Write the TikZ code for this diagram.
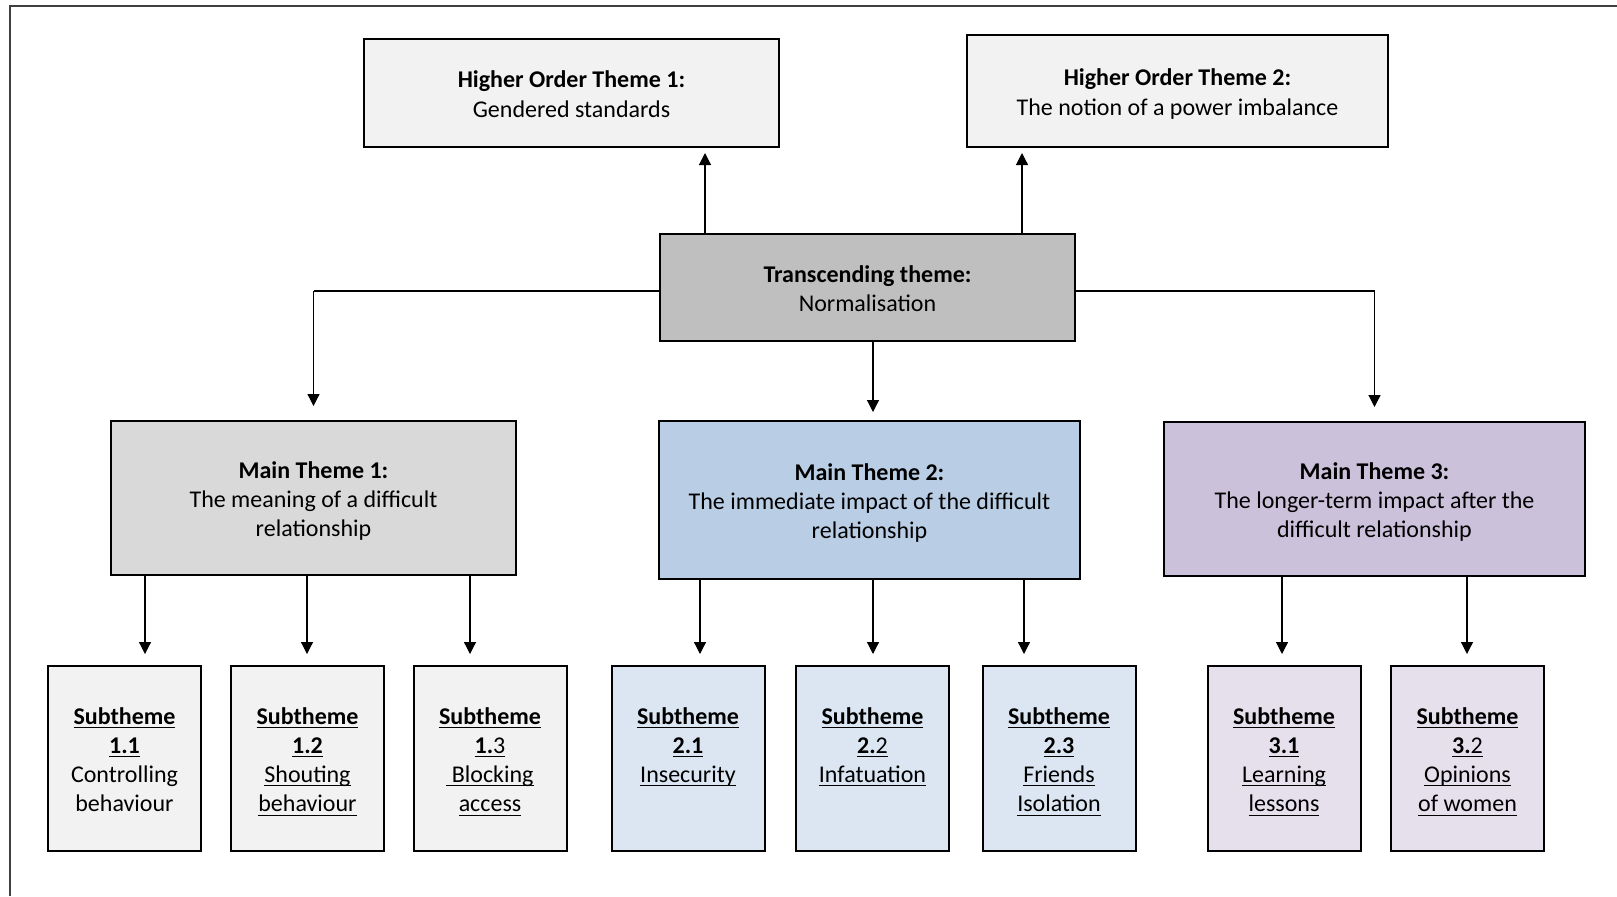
\documentclass[tikz,border=0pt]{standalone}
\usepackage{fontspec}
\setmainfont{Carlito}
\usepackage{amsmath}
\usetikzlibrary{arrows.meta}

\definecolor{hotgray}{HTML}{F2F2F2}
\definecolor{transgray}{HTML}{BFBFBF}
\definecolor{mtgray}{HTML}{D9D9D9}
\definecolor{mtblue}{HTML}{B9CDE5}
\definecolor{mtpurple}{HTML}{CCC1DA}
\definecolor{subblue}{HTML}{DCE6F2}
\definecolor{subpurple}{HTML}{E6E0EC}

\newcommand{\uln}[1]{\underline{\smash[b]{#1}}}
% text lines with a fixed top and bottom, so all boxes centre alike
\newcommand{\txt}[1]{\rule{0pt}{13.8pt}#1\strut}

\tikzset{
  themebox/.style={draw, line width=1pt, align=center, inner sep=2pt,
    font=\fontsize{12}{14.6}\selectfont},
  subbox/.style={themebox, minimum width=76.5pt, minimum height=92.5pt},
  arr/.style={-{Triangle[length=6pt,width=6pt]}, line width=0.6pt},
  link/.style={line width=1pt}
}

\begin{document}
\begin{tikzpicture}[x=0.5pt,y=-0.5pt]
\useasboundingbox (0,0) rectangle (1617,896);
\draw [line width=1.1pt, black!75] (10,896) -- (10,6) -- (1617,6);

% higher order themes
\node [themebox, fill=hotgray, minimum width=207.5pt, minimum height=54pt] (hot1) at (571.5,93)
  {\txt{\textbf{Higher Order Theme 1:}\\Gendered standards}};
\node [themebox, fill=hotgray, minimum width=210.5pt, minimum height=56pt] (hot2) at (1177.5,91)
  {\txt{\textbf{Higher Order Theme 2:}\\The notion of a power imbalance}};

% transcending theme
\node [themebox, fill=transgray, minimum width=207.5pt, minimum height=53.5pt] (trans) at (867.5,287.5)
  {\txt{\textbf{Transcending theme:}\\Normalisation}};

% main themes
\node [themebox, fill=mtgray, minimum width=202.5pt, minimum height=77pt] (mt1) at (313.5,498)
  {\txt{\textbf{Main Theme 1:}\\The meaning of a difficult\\relationship}};
\node [themebox, fill=mtblue, minimum width=210.5pt, minimum height=79pt] (mt2) at (869.5,500)
  {\txt{\textbf{Main Theme 2:}\\The immediate impact of the difficult\\relationship}};
\node [themebox, fill=mtpurple, minimum width=210.5pt, minimum height=77pt] (mt3) at (1374.5,499)
  {\txt{\textbf{Main Theme 3:}\\The longer-term impact after the\\difficult relationship}};

% subthemes
\node [subbox, fill=hotgray] (s11) at (124.5,758.5)
  {\txt{\uln{\textbf{Subtheme}}\\\uln{\textbf{1.1}}\\Controlling\\behaviour}};
\node [subbox, fill=hotgray] (s12) at (307.5,758.5)
  {\txt{\uln{\textbf{Subtheme}}\\\uln{\textbf{1.2}}\\\uln{Shouting}\\\uln{behaviour}}};
\node [subbox, fill=hotgray] (s13) at (490,758.5)
  {\txt{\uln{\textbf{Subtheme}}\\\uln{\textbf{1.}3}\\\uln{~Blocking}\\\uln{access}}};
\node [subbox, fill=subblue] (s21) at (688,758.5)
  {\txt{\uln{\textbf{Subtheme}}\\\uln{\textbf{2.1}}\\\uln{Insecurity}\\~}};
\node [subbox, fill=subblue] (s22) at (872.5,758.5)
  {\txt{\uln{\textbf{Subtheme}}\\\uln{\textbf{2.}2}\\\uln{Infatuation}\\~}};
\node [subbox, fill=subblue] (s23) at (1059,758.5)
  {\txt{\uln{\textbf{Subtheme}}\\\uln{\textbf{2.3}}\\\uln{Friends}\\\uln{Isolation}}};
\node [subbox, fill=subpurple] (s31) at (1284,758.5)
  {\txt{\uln{\textbf{Subtheme}}\\\uln{\textbf{3.1}}\\\uln{Learning}\\\uln{lessons}}};
\node [subbox, fill=subpurple] (s32) at (1467.5,758.5)
  {\txt{\uln{\textbf{Subtheme}}\\\uln{\textbf{3.}2}\\\uln{Opinions}\\\uln{of women}}};

% transcending theme up to the higher order themes
\coordinate (up1) at (705,0);
\coordinate (up2) at (1022,0);
\draw [arr, shorten >=2.5pt] (up1 |- trans.north) -- (up1 |- hot1.south);
\draw [arr, shorten >=2.5pt] (up2 |- trans.north) -- (up2 |- hot2.south);

% transcending theme down to the main themes
\coordinate (left) at ([yshift=-1.75pt]trans.west);
\coordinate (right) at ([yshift=-1.75pt]trans.east);
\draw [link] (left) -- (left -| mt1.north);
\draw [arr, shorten >=7pt] (left -| mt1.north) -- (mt1.north);
\draw [link] (right) -- (right -| mt3.north);
\draw [arr, shorten >=7pt] (right -| mt3.north) -- (mt3.north);
\draw [arr, shorten >=4pt] (873,0 |- trans.south) -- (873,0 |- mt2.north);

% main themes down to the subthemes
\draw [arr, shorten >=5.5pt] (145,0 |- mt1.south) -- (145,0 |- s11.north);
\draw [arr, shorten >=5.5pt] (307,0 |- mt1.south) -- (307,0 |- s12.north);
\draw [arr, shorten >=5.5pt] (470,0 |- mt1.south) -- (470,0 |- s13.north);
\draw [arr, shorten >=5.5pt] (700,0 |- mt2.south) -- (700,0 |- s21.north);
\draw [arr, shorten >=5.5pt] (873,0 |- mt2.south) -- (873,0 |- s22.north);
\draw [arr, shorten >=5.5pt] (1024,0 |- mt2.south) -- (1024,0 |- s23.north);
\draw [arr, shorten >=5.5pt] (1282,0 |- mt3.south) -- (1282,0 |- s31.north);
\draw [arr, shorten >=5.5pt] (1467,0 |- mt3.south) -- (1467,0 |- s32.north);
\end{tikzpicture}
\end{document}
